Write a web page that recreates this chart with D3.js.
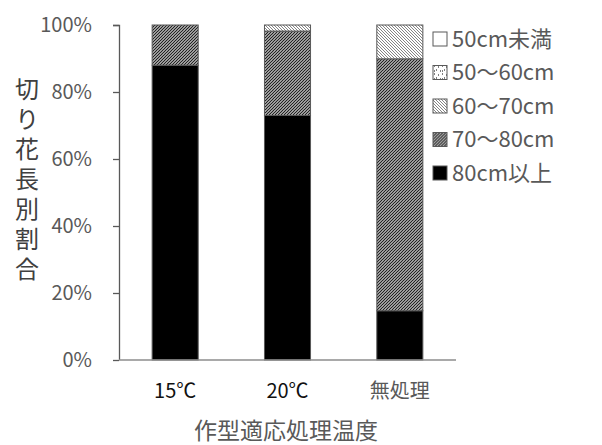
<!DOCTYPE html>
<html><head><meta charset="utf-8">
<script src="https://cdn.jsdelivr.net/npm/d3@7"></script>
<style>body{margin:0;background:#fff}</style>
</head><body><svg id="c" width="602" height="445"></svg>
<script>
const categories = ["15℃", "20℃", "無処理"];
const seriesNames = ["80cm以上", "70～80cm", "60～70cm", "50～60cm", "50cm未満"];
const v80plus = [88, 73, 14.7];
const v70to80 = [12, 25.2, 75.2];
const v60to70 = [0, 1.8, 10.1];
const v50to60 = [0, 0, 0];
const vUnder50 = [0, 0, 0];
const yTicks = [0, 20, 40, 60, 80, 100];
const yTitle = "切り花長別割合";
const xTitle = "作型適応処理温度";

const svg = d3.select("#c");
const defs = svg.append("defs");
function pat(id, size, draw){
  const p = defs.append("pattern").attr("id", id).attr("patternUnits","userSpaceOnUse")
    .attr("width", size).attr("height", size);
  p.append("rect").attr("width", size).attr("height", size).attr("fill","#fff");
  draw(p);
}
pat("p7080", 3, p => {
  p.append("path").attr("d","M-1,1 L1,-1 M0,3 L3,0 M2,4 L4,2").attr("stroke","#222").attr("stroke-width",1.3);
});
pat("p6070", 3, p => {
  p.append("path").attr("d","M-1,2 L1,4 M0,0 L3,3 M2,-1 L4,1").attr("stroke","#777").attr("stroke-width",0.9);
});
pat("p5060", 8, p => {
  [[1,1],[5,2],[3,5],[7,6],[1,6]].forEach(d=>p.append("rect").attr("x",d[0]).attr("y",d[1]).attr("width",1).attr("height",1).attr("fill","#000"));
});
const fills = ["#000", "url(#p7080)", "url(#p6070)", "url(#p5060)", "#fff"];

const x = d3.scaleBand().domain(categories).range([119, 456]).paddingInner(0.59).paddingOuter(0.295);
const y = d3.scaleLinear().domain([0, 100]).range([360, 25]);

const data = categories.map((c, i) => ({cat: c, s0: v80plus[i], s1: v70to80[i], s2: v60to70[i], s3: v50to60[i], s4: vUnder50[i]}));
const stack = d3.stack().keys(["s0","s1","s2","s3","s4"])(data);

stack.forEach((layer, li) => {
  svg.append("g").selectAll("rect").data(layer.filter(d => d[1] - d[0] > 0)).join("rect")
    .attr("x", d => x(d.data.cat))
    .attr("width", x.bandwidth())
    .attr("y", d => y(d[1]))
    .attr("height", d => y(d[0]) - y(d[1]))
    .attr("fill", fills[li])
    .attr("stroke", "#595959").attr("stroke-width", 1);
});

const ya = svg.append("g").attr("transform", "translate(119,0)")
  .call(d3.axisLeft(y).tickValues(yTicks).tickFormat(d => d + "%").tickSize(6).tickPadding(21));
ya.select(".domain").attr("stroke", "#595959").attr("stroke-width", 1.3).attr("d", "M-6,25.5H0.5V360");
ya.selectAll(".tick line").attr("stroke", "#595959").attr("stroke-width", 1.3);
ya.selectAll(".tick text").attr("fill", "#595959").style("font-family", "'Noto Sans CJK JP', sans-serif").style("font-size", "20px");

const xa = svg.append("g").attr("transform", "translate(0,360)")
  .call(d3.axisBottom(x).tickSize(0).tickPadding(24));
xa.select(".domain").attr("stroke", "#8c8c8c").attr("stroke-width", 1.5).attr("d", "M119,0H456");
xa.selectAll(".tick text").attr("fill", (d,i) => i < 2 ? "#111" : "#595959")
  .style("font-family", "'Noto Sans CJK JP', sans-serif").style("font-size", "20px");

svg.append("text")
  .attr("x", 27).attr("y", 77)
  .attr("text-anchor", "start")
  .attr("fill", "#404040")
  .style("writing-mode", "vertical-rl")
  .style("text-orientation", "upright")
  .style("letter-spacing", "6px")
  .style("font-family", "'Noto Sans CJK JP', sans-serif").style("font-size", "24px")
  .text(yTitle);

svg.append("text").attr("x", 286).attr("y", 439).attr("text-anchor", "middle")
  .attr("fill", "#595959").style("font-family", "'Noto Sans CJK JP', sans-serif").style("font-size", "23px")
  .text(xTitle);

const legOrder = [4, 3, 2, 1, 0];
const lg = svg.append("g").selectAll("g").data(legOrder).join("g")
  .attr("transform", (d, i) => `translate(433,${39 + i * 33.5})`);
lg.append("rect").attr("x", 0).attr("y", -7).attr("width", 14).attr("height", 14)
  .attr("fill", d => fills[d]).attr("stroke", "#595959").attr("stroke-width", 1);
lg.append("text").attr("x", 19).attr("y", 0).attr("dy", "0.35em")
  .attr("fill", "#595959").style("font-family", "'Noto Sans CJK JP', sans-serif").style("font-size", "22px")
  .text(d => seriesNames[d]);
</script></body></html>
